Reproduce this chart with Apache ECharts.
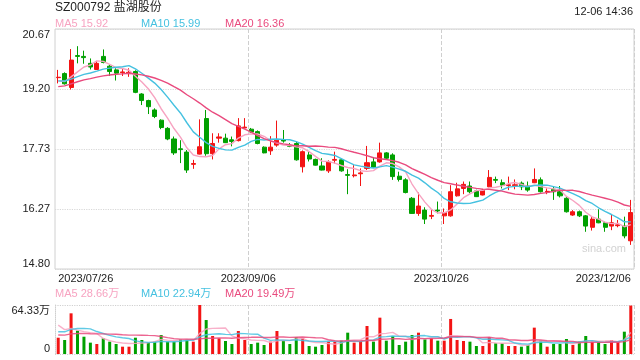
<!DOCTYPE html>
<html><head><meta charset="utf-8">
<script src="https://cdn.jsdelivr.net/npm/echarts@6/dist/echarts.min.js"></script>
<style>html,body{margin:0;padding:0;background:#fff}#c{width:640px;height:360px}</style>
</head><body><div id="c"></div>
<script>
const categories = [
'2023/07/26','2023/07/27','2023/07/28','2023/07/31',
'2023/08/01','2023/08/02','2023/08/03','2023/08/04','2023/08/07','2023/08/08','2023/08/09','2023/08/10','2023/08/11',
'2023/08/14','2023/08/15','2023/08/16','2023/08/17','2023/08/18','2023/08/21','2023/08/22','2023/08/23','2023/08/24','2023/08/25',
'2023/08/28','2023/08/29','2023/08/30','2023/08/31',
'2023/09/01','2023/09/04','2023/09/05','2023/09/06','2023/09/07','2023/09/08','2023/09/11','2023/09/12','2023/09/13','2023/09/14','2023/09/15',
'2023/09/18','2023/09/19','2023/09/20','2023/09/21','2023/09/22','2023/09/25','2023/09/26','2023/09/27','2023/09/28',
'2023/10/09','2023/10/10','2023/10/11','2023/10/12','2023/10/13','2023/10/16','2023/10/17','2023/10/18','2023/10/19','2023/10/20',
'2023/10/23','2023/10/24','2023/10/25','2023/10/26','2023/10/27','2023/10/30','2023/10/31',
'2023/11/01','2023/11/02','2023/11/03','2023/11/06','2023/11/07','2023/11/08','2023/11/09','2023/11/10','2023/11/13','2023/11/14','2023/11/15','2023/11/16','2023/11/17',
'2023/11/20','2023/11/21','2023/11/22','2023/11/23','2023/11/24','2023/11/27','2023/11/28','2023/11/29','2023/11/30',
'2023/12/01','2023/12/04','2023/12/05','2023/12/06'];

const opens = [19.48,19.58,19.24,20.02,20.00,19.83,19.68,20.00,19.76,19.67,
19.60,19.58,19.63,19.08,18.92,18.69,18.44,18.24,17.98,17.74,
17.66,17.36,17.61,18.48,17.62,18.00,18.00,17.96,17.94,18.25,
18.22,18.16,17.78,17.69,17.83,17.95,17.82,17.87,17.30,17.59,
17.48,17.32,17.20,17.46,17.47,17.11,17.08,17.13,17.26,17.42,
17.42,17.64,17.59,17.07,16.98,16.53,16.16,16.24,16.09,16.24,
16.10,16.10,16.59,16.77,16.83,16.71,16.61,16.81,16.99,16.91,
16.84,16.84,16.90,16.83,16.91,16.98,16.68,16.75,16.69,16.53,
16.12,16.20,16.10,15.82,16.02,15.93,15.85,15.86,15.85,15.49];
const closes = [19.49,19.33,19.91,20.00,19.97,19.74,19.83,19.85,19.63,19.59,
19.62,19.61,19.12,18.92,18.77,18.53,18.26,17.98,17.64,17.72,
17.22,17.38,17.79,17.62,17.87,18.03,17.89,17.92,18.30,18.27,
18.15,17.87,17.64,17.78,17.95,17.93,17.80,17.47,17.67,17.49,
17.34,17.22,17.42,17.48,17.20,17.09,17.10,17.15,17.40,17.29,
17.64,17.51,17.06,16.99,16.67,16.16,16.34,16.02,16.11,16.22,
16.18,16.69,16.76,16.87,16.69,16.57,16.73,17.04,16.97,16.85,
16.86,16.86,16.81,16.73,16.99,16.69,16.70,16.69,16.59,16.20,
16.20,16.10,15.85,16.02,15.93,15.82,15.93,15.88,15.61,16.18];
const lows = [19.34,19.31,19.19,19.83,19.82,19.68,19.67,19.83,19.52,19.41,
19.52,19.50,19.10,18.81,18.59,18.49,18.22,17.95,17.59,17.39,
17.15,17.25,17.60,17.57,17.48,17.89,17.88,17.80,17.92,18.24,
18.14,17.85,17.63,17.59,17.79,17.89,17.78,17.45,17.16,17.43,
17.33,17.21,17.15,17.38,17.18,16.63,17.04,16.83,17.22,17.28,
17.40,17.49,16.98,16.94,16.65,16.15,16.10,15.90,16.02,16.16,
15.90,16.08,16.57,16.63,16.65,16.56,16.60,16.80,16.90,16.77,
16.73,16.75,16.73,16.69,16.90,16.67,16.63,16.49,16.55,16.18,
16.10,16.07,15.71,15.74,15.92,15.71,15.75,15.82,15.55,15.39];
const highs = [19.67,19.61,20.18,20.25,20.14,19.95,19.89,20.17,19.79,19.71,
19.71,19.71,19.66,19.10,18.94,18.73,18.46,18.27,18.04,17.95,
17.71,17.47,18.46,18.69,18.12,18.12,18.11,18.04,18.49,18.49,
18.25,18.19,17.80,18.05,18.43,18.20,17.88,17.91,17.70,17.67,
17.50,17.51,17.46,17.67,17.50,17.24,17.34,17.26,17.81,17.54,
17.89,17.66,17.63,17.18,17.02,16.56,16.67,16.31,16.26,16.45,
16.28,16.85,16.91,16.94,16.94,16.74,16.76,17.22,17.06,16.99,
17.06,16.99,16.94,16.94,17.26,17.04,16.77,16.81,16.83,16.57,
16.24,16.23,16.12,16.08,16.26,15.96,16.12,16.00,16.08,16.49];
// volume in 万
const volumes = [21.4,18.4,53.4,30.6,22.7,14.9,13.1,20.6,16.2,13.1,
9.6,9.6,21.4,18.4,15.3,16.2,24.9,16.2,16.2,19.3,
19.3,16.2,64.33,44.6,23.6,20.6,17.1,13.1,30.2,18.4,
13.1,14.9,11.8,16.2,30.2,17.5,13.1,21.9,20.6,10.5,
9.6,11.8,16.2,16.2,17.5,28.0,14.9,17.1,36.8,16.2,
47.7,17.5,23.6,11.8,16.2,24.9,28.0,19.3,20.6,17.5,
17.5,46.0,18.4,17.1,16.2,10.5,10.5,21.9,14.0,14.0,
10.5,10.5,9.6,11.8,34.6,17.5,9.6,13.1,13.1,19.7,
11.8,16.2,23.6,16.2,16.2,13.1,18.4,16.2,29.3,63.6];
// estimated closes / volumes of the 19 sessions before the first one (for the MA lines)
const prevCloses = [18.95,18.90,19.00,19.05,19.10,19.15,19.20,19.18,19.25,19.42,19.35,19.45,19.38,19.42,19.40,19.40,19.35,19.38,19.38];
const prevVolumes = [22,19,21,20,23,18,20,22,19,21,20,22,19,21,21,48,46,42,32.6];

const yTickLabels = ['14.80','16.27','17.73','19.20','20.67'];
const volTickLabels = ['0','64.33万'];
const maLabels = ['MA5 15.92','MA10 15.99','MA20 16.36'];
const volMaLabels = ['MA5 28.66万','MA10 22.94万','MA20 19.49万'];
const titleText = 'SZ000792 盐湖股份';
const timeText = '12-06 14:36';
const xLabelIdx = [0,30,60,89];
const xSplitIdx = [30,60];

const yMin = 14.80, yMax = 20.67, volMax = 64.33;
const step = (yMax - yMin) / 4;
const RED = '#f31414', GREEN = '#00a000';
const MA_COLORS = ['#f7a3c1','#45c1e0','#e94a7e'];
const MA_N = [5,10,20];
const FONT = '"Liberation Sans", Arial, "Noto Sans CJK SC", sans-serif';

function ma(n, prev, arr) {
  const all = prev.concat(arr), off = prev.length, out = [];
  for (let i = 0; i < arr.length; i++) {
    let s = 0;
    for (let k = 0; k < n; k++) s += all[off + i - k];
    out.push(+(s / n).toFixed(4));
  }
  return out;
}

const candleData = opens.map((o, i) => [o - yMin, closes[i] - yMin, lows[i] - yMin, highs[i] - yMin]);
const volData = volumes.map((v, i) => ({ value: v, itemStyle: { color: closes[i] >= opens[i] ? RED : GREEN } }));

const series = [{
  type: 'candlestick', xAxisIndex: 0, yAxisIndex: 0, data: candleData, barWidth: 4.6,
  itemStyle: { color: RED, color0: GREEN, borderColor: RED, borderColor0: GREEN, borderWidth: 1 }
}];
MA_N.forEach((n, k) => series.push({
  type: 'line', xAxisIndex: 0, yAxisIndex: 0, showSymbol: false, silent: true,
  data: ma(n, prevCloses, closes).map(v => v - yMin),
  lineStyle: { color: MA_COLORS[k], width: 1.4 }
}));
series.push({ type: 'bar', xAxisIndex: 1, yAxisIndex: 1, data: volData, barWidth: 3 });
MA_N.forEach((n, k) => series.push({
  type: 'line', xAxisIndex: 1, yAxisIndex: 1, showSymbol: false, silent: true,
  data: ma(n, prevVolumes, volumes),
  lineStyle: { color: MA_COLORS[k], width: 1.4, opacity: 0.85 }
}));

const labelStyle = { color: '#222', fontSize: 11, fontFamily: FONT };
function txt(text, x, y, fill, size, align) {
  return { type: 'text', x: x, y: y, style: { text: text, fill: fill, fontSize: size, fontFamily: FONT, align: align || 'left', verticalAlign: 'middle' } };
}
const legendX = [55, 141, 225];
const graphics = [
  txt(titleText, 55, 8, '#222', 12),
  txt(timeText, 633, 12, '#222', 11, 'right'),
  txt('sina.com', 582, 249, '#d2d2d2', 11)
];
maLabels.forEach((t, k) => graphics.push(txt(t, legendX[k], 24, MA_COLORS[k], 11)));
volMaLabels.forEach((t, k) => graphics.push(txt(t, legendX[k], 294, MA_COLORS[k], 11)));

const chart = echarts.init(document.getElementById('c'));
chart.setOption({
  animation: false,
  backgroundColor: '#fff',
  grid: [
    { left: 55, right: 6, top: 29, height: 240, show: true, borderColor: '#d0d0d0', borderWidth: 1 },
    { left: 55, right: 6, top: 305, height: 49 }
  ],
  xAxis: [
    { type: 'category', gridIndex: 0, data: categories, boundaryGap: true,
      axisLine: { show: false }, axisTick: { show: false },
      axisLabel: Object.assign({ interval: i => xLabelIdx.indexOf(i) >= 0, margin: 4,
        alignMinLabel: 'left', alignMaxLabel: 'right', showMinLabel: true, showMaxLabel: true,
        formatter: (v, i) => (i === 0 || i === categories.length - 1) ? v : '{m|' + v + '}',
        rich: { m: { color: '#222', fontSize: 11, fontFamily: FONT, padding: [0, 6, 0, 0] } } }, labelStyle),
      splitLine: { show: true, interval: i => xSplitIdx.indexOf(i) >= 0, lineStyle: { type: 'dashed', color: '#cfcfcf' } } },
    { type: 'category', gridIndex: 1, data: categories, boundaryGap: true,
      axisLine: { show: false }, axisTick: { show: false }, axisLabel: { show: false },
      splitLine: { show: true, interval: i => xSplitIdx.indexOf(i) >= 0, lineStyle: { type: 'dashed', color: '#cfcfcf' } } }
  ],
  yAxis: [
    { type: 'value', gridIndex: 0, min: 0, max: yMax - yMin, interval: step,
      axisLine: { show: false }, axisTick: { show: false },
      axisLabel: Object.assign({ margin: 5, formatter: v => yTickLabels[Math.round(v / step)],
        verticalAlignMinLabel: 'bottom', verticalAlignMaxLabel: 'top' }, labelStyle),
      splitLine: { lineStyle: { type: 'dotted', color: '#d8d8d8', width: 1.2 } } },
    { type: 'value', gridIndex: 1, min: 0, max: volMax, interval: volMax,
      axisLine: { show: true, lineStyle: { type: 'dotted', color: '#cfcfcf' } }, axisTick: { show: false },
      axisLabel: Object.assign({ margin: 5, formatter: v => volTickLabels[v > 0 ? 1 : 0],
        verticalAlignMinLabel: 'bottom', verticalAlignMaxLabel: 'top' }, labelStyle),
      splitLine: { lineStyle: { type: 'dotted', color: '#d0d0d0', width: 1.2 } } }
  ],
  graphic: graphics,
  series: series
});
</script></body></html>
